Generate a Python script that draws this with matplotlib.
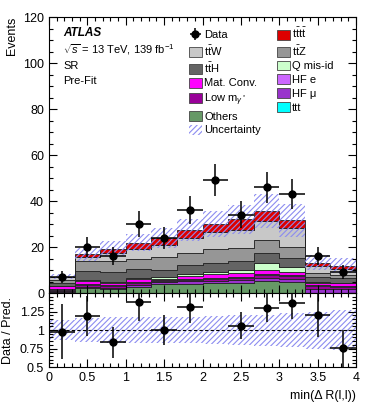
import numpy as np
import matplotlib
matplotlib.use("Agg")
import matplotlib.pyplot as plt
from matplotlib.patches import Patch
from matplotlib.ticker import MultipleLocator, FixedLocator, FuncFormatter

plt.rcParams["font.family"] = ["Liberation Sans", "DejaVu Sans"]
plt.rcParams["mathtext.fontset"] = "custom"
plt.rcParams["mathtext.rm"] = "Liberation Sans"
plt.rcParams["mathtext.it"] = "Liberation Sans:italic"
plt.rcParams["mathtext.bf"] = "Liberation Sans:bold"
plt.rcParams["hatch.linewidth"] = 0.8

# binning in min(dR(l,l))
bin_edges = [0.0, 0.333, 0.667, 1.0, 1.333, 1.667, 2.0, 2.333, 2.667, 3.0, 3.333, 3.667, 4.0]

data_counts = [7, 20, 16, 30, 24, 36, 49, 34, 46, 43, 16, 9]

# predicted yields per process
ttt      = [0.05, 0.1, 0.1, 0.1, 0.15, 0.15, 0.15, 0.15, 0.15, 0.15, 0.05, 0.05]
others   = [0.5, 2.1, 1.6, 2.6, 3.7, 3.9, 4.1, 4.4, 5.1, 4.8, 0.1, 0.1]
hf_mu    = [0.3, 0.6, 0.7, 0.8, 0.8, 1.0, 1.0, 1.0, 1.4, 1.3, 1.6, 1.5]
low_m    = [0.5, 0.8, 0.8, 0.8, 0.7, 0.8, 0.9, 1.0, 1.0, 1.0, 1.3, 1.0]
hf_e     = [0.2, 0.3, 0.3, 0.4, 0.3, 0.4, 0.5, 0.5, 0.6, 0.5, 0.5, 0.4]
mat_conv = [1.5, 1.5, 1.0, 1.2, 0.6, 1.0, 1.5, 1.5, 1.7, 1.5, 1.0, 1.2]
q_misid  = [0.2, 0.3, 0.5, 0.7, 0.6, 1.2, 1.2, 1.5, 2.9, 2.2, 0.3, 0.3]
tth      = [1.0, 3.8, 4.3, 3.9, 3.0, 3.9, 3.8, 4.0, 4.7, 3.8, 2.2, 2.0]
ttz      = [1.5, 4.6, 4.5, 4.2, 5.8, 5.0, 6.1, 5.6, 5.3, 4.8, 1.8, 1.5]
ttw      = [1.2, 1.4, 3.7, 4.5, 5.4, 6.7, 7.3, 7.9, 8.4, 8.2, 3.0, 2.5]
tttt     = [0.2, 1.3, 1.7, 2.6, 2.9, 3.3, 3.3, 4.5, 4.3, 3.3, 1.4, 1.4]

# relative total uncertainty on the prediction
rel_unc = [0.14, 0.16, 0.17, 0.17, 0.18, 0.18, 0.19, 0.20, 0.21, 0.23, 0.25, 0.27]

# stacking order, bottom to top
stack = [
    (ttt, "#00ffff"),
    (others, "#669966"),
    (hf_mu, "#9933cc"),
    (low_m, "#990099"),
    (hf_e, "#cc66ff"),
    (mat_conv, "#ff00ff"),
    (q_misid, "#ccffcc"),
    (tth, "#646464"),
    (ttz, "#969696"),
    (ttw, "#c8c8c8"),
    (tttt, "#dd0000"),
]
hatch_col = "#8c8cf0"
hatch = "//////"

edges = np.array(bin_edges)
centers = 0.5 * (edges[1:] + edges[:-1])
half_w = 0.5 * np.diff(edges)
data = np.array(data_counts, dtype=float)
rel = np.array(rel_unc)

fig = plt.figure(figsize=(3.74, 4.07), dpi=100)
ax = fig.add_axes([0.131, 0.280, 0.821, 0.678])
rax = fig.add_axes([0.131, 0.098, 0.821, 0.182], sharex=ax)

bottom = np.zeros(len(data))
for vals, col in stack:
    top = bottom + np.array(vals)
    ax.stairs(top, edges, baseline=bottom.copy(), fill=True, facecolor=col,
              edgecolor="#222222", linewidth=0.6)
    bottom = top
total = bottom

ax.stairs(total * (1 + rel), edges, baseline=total * (1 - rel), fill=True,
          facecolor="none", edgecolor=hatch_col, hatch=hatch, linewidth=0)

data_h = ax.errorbar(centers, data, xerr=half_w, yerr=np.sqrt(data), fmt="o",
                     color="black", ms=5, lw=1.1, capsize=0)

ax.set_xlim(0, 4)
ax.set_ylim(0, 120)
ax.yaxis.set_major_locator(MultipleLocator(20))
ax.yaxis.set_minor_locator(MultipleLocator(5))
ax.xaxis.set_major_locator(MultipleLocator(0.5))
ax.xaxis.set_minor_locator(MultipleLocator(0.1))
ax.xaxis.set_major_formatter(FuncFormatter(lambda v, p: f"{v:g}"))
ax.tick_params(axis="x", labelbottom=False)
ax.set_ylabel("Events", loc="top", fontsize=9)

# ratio panel
ratio = data / total
ratio_err = np.sqrt(data) / total
rax.stairs(1 + rel, edges, baseline=1 - rel, fill=True, facecolor="none",
           edgecolor=hatch_col, hatch=hatch, linewidth=0)
rax.axhline(1.0, color="black", lw=0.8, ls=(0, (3, 2)))
shown = ratio <= 1.5
rax.errorbar(centers[shown], ratio[shown], xerr=half_w[shown], yerr=ratio_err[shown],
             fmt="o", color="black", ms=5, lw=1.1, capsize=0)
rax.set_ylim(0.5, 1.5)
rax.yaxis.set_major_locator(FixedLocator([0.5, 0.75, 1.0, 1.25, 1.5]))
rax.yaxis.set_major_formatter(FuncFormatter(lambda v, p: "" if v > 1.4 else f"{v:g}"))
rax.yaxis.set_minor_locator(MultipleLocator(0.05))
rax.set_ylabel("Data / Pred.", fontsize=9)
rax.set_xlabel("min(Δ R(l,l))", loc="right", fontsize=9)

for a in (ax, rax):
    a.tick_params(which="both", direction="in", top=True, right=True, labelsize=9)
    a.tick_params(which="major", length=6, width=0.8)
    a.tick_params(which="minor", length=3, width=0.8)
    for s in a.spines.values():
        s.set_linewidth(0.8)

# labels
ax.text(0.046, 0.942, "ATLAS", transform=ax.transAxes, fontsize=8.5,
        fontweight="bold", fontstyle="italic", va="center")
ax.text(0.046, 0.884, r"$\sqrt{s}$ = 13 TeV, 139 fb$^{-1}$", transform=ax.transAxes,
        fontsize=8, va="center")
ax.text(0.046, 0.824, "SR", transform=ax.transAxes, fontsize=8, va="center")
ax.text(0.046, 0.768, "Pre-Fit", transform=ax.transAxes, fontsize=8, va="center")

names = {
    "tttt": r"$\mathrm{t\bar{t}t\bar{t}}$",
    "ttw": r"$\mathrm{t\bar{t}W}$",
    "ttz": r"$\mathrm{t\bar{t}Z}$",
    "tth": r"$\mathrm{t\bar{t}H}$",
}
cols = dict((id(v), c) for v, c in stack)


def box(vals):
    return Patch(facecolor=cols[id(vals)], edgecolor="#444444", linewidth=0.6)


handles = [
    data_h, box(ttw), box(tth), box(mat_conv), box(low_m), box(others),
    Patch(facecolor="none", edgecolor=hatch_col, hatch=hatch, linewidth=0),
    box(tttt), box(ttz), box(q_misid), box(hf_e), box(hf_mu), box(ttt),
]
labels = [
    "Data", names["ttw"], names["tth"], "Mat. Conv.", r"Low m$_{\gamma^*}$", "Others",
    "Uncertainty",
    names["tttt"], names["ttz"], "Q mis-id", "HF e", "HF μ", "ttt",
]
ax.legend(handles, labels, ncol=2, loc="upper left", bbox_to_anchor=(0.43, 0.995),
          frameon=False, fontsize=8, handlelength=1.2, handleheight=1.0,
          handletextpad=0.2, labelspacing=0.27, columnspacing=1.4, borderpad=0.2)

fig.savefig("out.png", dpi=100)
